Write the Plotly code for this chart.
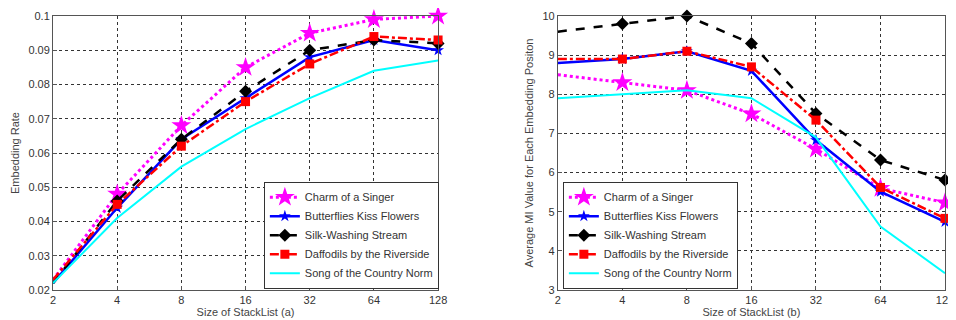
import plotly.graph_objects as go

sizes = [2, 4, 8, 16, 32, 64, 128]
tick_labels = ["2", "4", "8", "16", "32", "64", "128"]
names = ["Charm of a Singer", "Butterflies Kiss Flowers", "Silk-Washing Stream",
         "Daffodils by the Riverside", "Song of the Country Norm"]

rate_charm = [0.023, 0.048, 0.068, 0.085, 0.095, 0.099, 0.100]
rate_butterflies = [0.022, 0.044, 0.064, 0.076, 0.088, 0.093, 0.090]
rate_silk = [0.022, 0.046, 0.064, 0.078, 0.090, 0.093, 0.092]
rate_daffodils = [0.023, 0.045, 0.062, 0.075, 0.086, 0.094, 0.093]
rate_song = [0.022, 0.041, 0.056, 0.067, 0.076, 0.084, 0.087]

mi_charm = [8.5, 8.3, 8.1, 7.5, 6.6, 5.6, 5.23]
mi_butterflies = [8.8, 8.9, 9.1, 8.6, 6.83, 5.51, 4.74]
mi_silk = [9.6, 9.8, 10.0, 9.3, 7.51, 6.32, 5.81]
mi_daffodils = [8.9, 8.9, 9.1, 8.7, 7.34, 5.62, 4.83]
mi_song = [7.9, 8.0, 8.1, 7.9, 6.9, 4.62, 3.43]

styles = [
    dict(line=dict(color="#ff00ff", width=3, dash="dot"), marker=dict(symbol="star", size=15, color="#ff00ff"), mode="lines+markers"),
    dict(line=dict(color="#0000ff", width=2.5, dash="solid"), marker=dict(symbol="star", size=9, color="#0000ff"), mode="lines+markers"),
    dict(line=dict(color="#000000", width=2.5, dash="dash"), marker=dict(symbol="diamond", size=10, color="#000000"), mode="lines+markers"),
    dict(line=dict(color="#ff0000", width=2.5, dash="dashdot"), marker=dict(symbol="square", size=9, color="#ff0000"), mode="lines+markers"),
    dict(line=dict(color="#00ffff", width=2), mode="lines"),
]

fig = go.Figure()
left = [rate_charm, rate_butterflies, rate_silk, rate_daffodils, rate_song]
right = [mi_charm, mi_butterflies, mi_silk, mi_daffodils, mi_song]
for n, ys, st in zip(names, left, styles):
    fig.add_trace(go.Scatter(x=sizes, y=ys, name=n, xaxis="x", yaxis="y",
                             legend="legend", cliponaxis=False, **st))
for n, ys, st in zip(names, right, styles):
    fig.add_trace(go.Scatter(x=sizes, y=ys, name=n, xaxis="x2", yaxis="y2",
                             legend="legend2", cliponaxis=False, **st))

axis_common = dict(showline=True, linecolor="#555", linewidth=1, mirror=True,
                   showgrid=True, gridcolor="#333", griddash="dot", gridwidth=1,
                   ticks="inside", ticklen=4, tickcolor="#555", zeroline=False,
                   tickfont=dict(family="Liberation Sans, Arial", size=11, color="#333"))
xticks = dict(type="log", range=[0.30103, 2.10721], tickvals=sizes, ticktext=tick_labels)
title_font = dict(family="Liberation Sans, Arial", size=11, color="#444")
legend_font = dict(family="Liberation Sans, Arial", size=11, color="#333")

# page body has an 8px margin: figure shrunk so its plot areas land where the reference's do
fig.update_layout(
    width=948, height=312,
    margin=dict(l=45, r=2, t=8, b=30),
    paper_bgcolor="white", plot_bgcolor="white",
    showlegend=True,
    xaxis=dict(domain=[0, 0.4317], anchor="y", **xticks, **axis_common,
               title=dict(text="Size of StackList (a)", font=title_font, standoff=2)),
    yaxis=dict(domain=[0, 1], anchor="x", range=[0.02, 0.1], dtick=0.01, **axis_common,
               title=dict(text="Embedding Rate", font=title_font, standoff=6)),
    xaxis2=dict(domain=[0.566, 1], anchor="y2", **xticks, **axis_common,
                title=dict(text="Size of StackList (b)", font=title_font, standoff=2)),
    yaxis2=dict(domain=[0, 1], anchor="x2", range=[3, 10], dtick=1, **axis_common,
                title=dict(text="Average MI Value for Each Embedding Positon", font=title_font, standoff=6)),
    legend=dict(x=0.2364, y=0.005, xanchor="left", yanchor="bottom", bgcolor="white",
                bordercolor="#333", borderwidth=1, tracegroupgap=0, font=legend_font),
    legend2=dict(x=0.5716, y=0.005, xanchor="left", yanchor="bottom", bgcolor="white",
                 bordercolor="#333", borderwidth=1, tracegroupgap=0, font=legend_font),
)

fig.write_html("out.html")
